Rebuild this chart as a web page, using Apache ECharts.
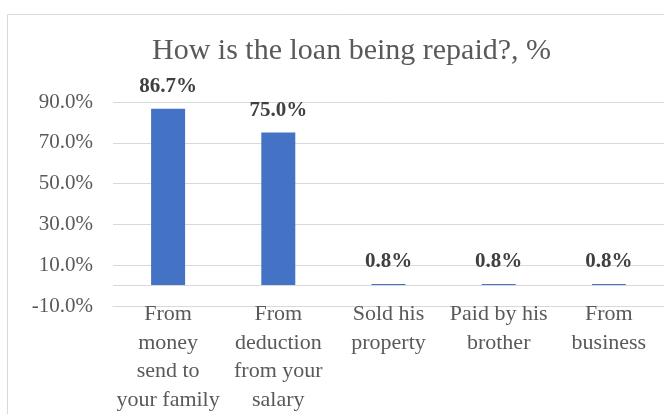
<!DOCTYPE html>
<html>
<head>
<meta charset="utf-8">
<script src="https://cdn.jsdelivr.net/npm/echarts@6/dist/echarts.min.js"></script>
<style>
  html, body { margin: 0; padding: 0; background: #fff; }
  #chart { width: 664px; height: 414px; }
</style>
</head>
<body>
<div id="chart"></div>
<script>
// categories and values
var categories = [
  'From\nmoney\nsend to\nyour family',
  'From\ndeduction\nfrom your\nsalary',
  'Sold his\nproperty',
  'Paid by his\nbrother',
  'From\nbusiness'
]
var shares = [86.7, 75.0, 0.8, 0.8, 0.8]

var font = '"Liberation Serif", "DejaVu Serif", serif'
var myChart = echarts.init(document.getElementById('chart'))

var option = {
  animation: false,
  textStyle: { fontFamily: font },
  title: {
    text: 'How is the loan being repaid?, %',
    left: 147,
    top: 31,
    textStyle: { fontFamily: font, fontSize: 30, fontWeight: 'normal', color: '#595959' }
  },
  graphic: [{
    type: 'rect',
    silent: true,
    shape: { x: 7.5, y: 14.5, width: 700, height: 420 },
    style: { fill: 'none', stroke: '#d9d9d9', lineWidth: 1 }
  }],
  grid: { left: 113, right: 0, top: 102, bottom: 107 },
  xAxis: {
    type: 'category',
    data: categories,
    axisTick: { show: false },
    axisLine: { onZero: false, lineStyle: { color: '#d9d9d9' } },
    axisLabel: {
      interval: 0,
      margin: -6,
      fontSize: 22,
      lineHeight: 28.5,
      color: '#595959',
      fontFamily: font
    }
  },
  yAxis: {
    type: 'value',
    min: -10,
    max: 90,
    interval: 20,
    axisLine: { show: false },
    axisTick: { show: false },
    splitLine: { lineStyle: { color: '#d9d9d9' } },
    axisLabel: {
      margin: 20,
      fontSize: 21,
      color: '#595959',
      fontFamily: font,
      formatter: function (v) { return v.toFixed(1) + '%' }
    }
  },
  series: [{
    type: 'bar',
    data: shares,
    barWidth: 34,
    itemStyle: { color: '#4472c4' },
    label: {
      show: true,
      position: 'top',
      distance: 12,
      fontSize: 21,
      fontWeight: 'bold',
      color: '#404040',
      fontFamily: font,
      formatter: function (p) { return p.value.toFixed(1) + '%' }
    },
    markLine: {
      silent: true,
      symbol: ['none', 'none'],
      label: { show: false },
      lineStyle: { color: '#d9d9d9', type: 'solid', width: 1 },
      data: [{ yAxis: 0 }]
    }
  }]
}

myChart.setOption(option)
</script>
</body>
</html>
